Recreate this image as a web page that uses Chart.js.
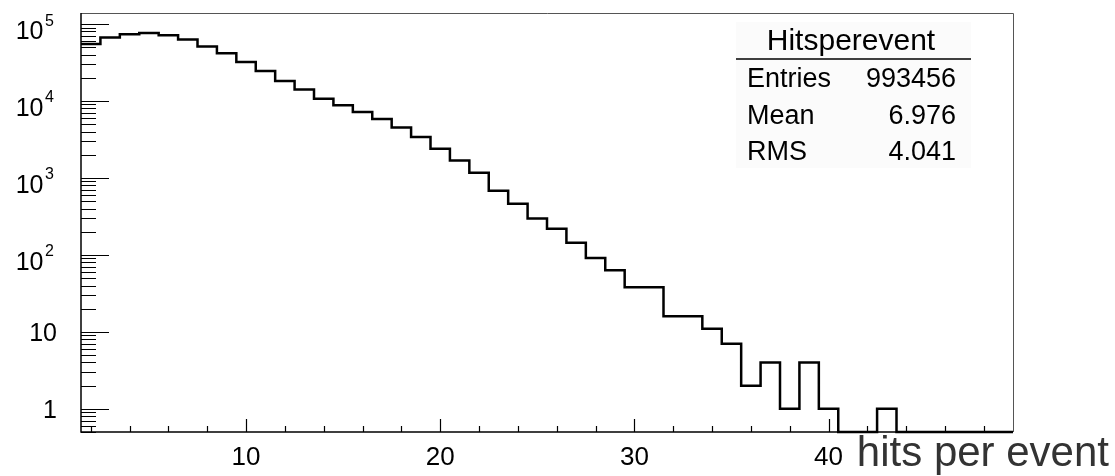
<!DOCTYPE html>
<html>
<head>
<meta charset="utf-8">
<script src="https://cdn.jsdelivr.net/npm/chart.js@4.4.1/dist/chart.umd.min.js"></script>
<style>
  body { margin: 0; background: #fff; }
  #wrap { width: 1115px; height: 476px; position: relative; }
</style>
</head>
<body>
<div id="wrap"><canvas id="hist"></canvas></div>
<script>
// histogram: hits per event, one bin per integer
const binCenters = [2, 3, 4, 5, 6, 7, 8, 9, 10, 11, 12, 13, 14, 15, 16, 17, 18, 19, 20, 21, 22, 23, 24, 25,
    26, 27, 28, 29, 30, 31, 32, 33, 34, 35, 36, 37, 38, 39, 40, 41, 42, 43, 44, 45, 46, 47, 48, 49];
const counts = [55000, 66700, 73700, 76600, 71500, 62800, 50900, 41700, 32100, 24500, 18200, 14100,
    10700, 8790, 7200, 5830, 4510, 3400, 2400, 1680, 1170, 684, 463, 298,
    219, 144, 91, 63, 38, 38, 16, 16, 11, 7, 2, 4, 1, 4, 1, 0, 0, 1,
    0, 0, 0, 0, 0, 0];
const binWidth = 1;

// axis ranges
const xMin = 1.5, xMax = 49.5;
const yMin = 0.5, yMax = 139000;

// axis labels
const xTickValues = [10, 20, 30, 40];
const yTickValues = [1, 10, 100, 1000, 10000, 100000];
const yTickBase = ['1', '10', '10', '10', '10', '10'];
const yTickExp = ['', '', '2', '3', '4', '5'];
const xTitle = 'hits per event';

// stats box
const statsTitle = 'Hitsperevent';
const statNames = ['Entries', 'Mean', 'RMS'];
const statValues = ['993456', '6.976', '4.041'];

const FONT = '"Liberation Sans", Arial, Helvetica, sans-serif';

// left bin edges + closing edge, for a stepped outline
// empty bins sit on the bottom of the log axis (like ROOT does)
const shown = counts.map(c => (c > 0 ? c : yMin));
const points = binCenters.map((c, i) => ({ x: c - binWidth / 2, y: shown[i] }));
points.push({ x: binCenters[binCenters.length - 1] + binWidth / 2, y: shown[shown.length - 1] });

const rootAxes = {
    id: 'rootAxes',
    afterDraw(chart) {
        const ctx = chart.ctx;
        const a = chart.chartArea;
        const x = chart.scales.x;
        const y = chart.scales.y;
        ctx.save();

        // frame top/right
        ctx.strokeStyle = '#555';
        ctx.lineWidth = 1;
        ctx.beginPath();
        ctx.moveTo(a.left, a.top + 0.5);
        ctx.lineTo(a.right + 0.5, a.top + 0.5);
        ctx.lineTo(a.right + 0.5, a.bottom);
        ctx.stroke();

        // axes
        ctx.strokeStyle = '#000';
        ctx.lineWidth = 1.5;
        ctx.beginPath();
        ctx.moveTo(a.left, a.top);
        ctx.lineTo(a.left, a.bottom);
        ctx.lineTo(a.right, a.bottom);
        ctx.stroke();

        // y ticks (inside, on the left)
        ctx.lineWidth = 1.2;
        ctx.beginPath();
        for (let k = -1; k <= 5; k++) {
            for (let m = 1; m <= 9; m++) {
                const v = m * Math.pow(10, k);
                if (v < y.min || v > y.max) continue;
                const py = Math.round(y.getPixelForValue(v)) + 0.5;
                const len = m === 1 ? 28 : 15;
                ctx.moveTo(a.left, py);
                ctx.lineTo(a.left + len, py);
            }
        }
        // x ticks (inside, on the bottom)
        for (let v = 2; v <= 48; v += 2) {
            const px = Math.round(x.getPixelForValue(v)) + 0.5;
            const len = v % 10 === 0 ? 13 : 6;
            ctx.moveTo(px, a.bottom);
            ctx.lineTo(px, a.bottom - len);
        }
        ctx.stroke();

        // x labels
        ctx.fillStyle = '#000';
        ctx.font = '26px ' + FONT;
        ctx.textAlign = 'center';
        ctx.textBaseline = 'alphabetic';
        xTickValues.forEach(v => {
            ctx.fillText(String(v), x.getPixelForValue(v), 465);
        });

        // y labels
        yTickValues.forEach((v, i) => {
            const py = y.getPixelForValue(v);
            if (yTickExp[i] === '') {
                ctx.font = '25px ' + FONT;
                ctx.textAlign = 'right';
                ctx.fillText(yTickBase[i], 57, py + 9);
            } else {
                ctx.font = '16px ' + FONT;
                ctx.textAlign = 'left';
                ctx.fillText(yTickExp[i], 45, py + 1.5);
                ctx.font = '25px ' + FONT;
                ctx.textAlign = 'right';
                ctx.fillText(yTickBase[i], 43.5, py + 15);
            }
        });

        // x axis title
        ctx.fillStyle = '#333';
        ctx.font = '42px ' + FONT;
        ctx.textAlign = 'right';
        ctx.fillText(xTitle, 1109, 466);

        // stats box
        ctx.fillStyle = '#fbfbfb';
        ctx.fillRect(736, 22, 235, 146);
        ctx.fillStyle = '#000';
        ctx.font = '30px ' + FONT;
        ctx.textAlign = 'center';
        ctx.fillText(statsTitle, 851, 50);
        ctx.strokeStyle = '#000';
        ctx.lineWidth = 1.5;
        ctx.beginPath();
        ctx.moveTo(736, 59);
        ctx.lineTo(971, 59);
        ctx.stroke();
        ctx.font = '27px ' + FONT;
        statNames.forEach((name, i) => {
            const base = 87 + i * 36.7;
            ctx.textAlign = 'left';
            ctx.fillText(name, 747, base);
            ctx.textAlign = 'right';
            ctx.fillText(statValues[i], 956, base);
        });

        ctx.restore();
    }
};

new Chart(document.getElementById('hist'), {
    type: 'line',
    data: {
        datasets: [{
            label: statsTitle,
            data: points,
            stepped: 'before',
            borderColor: '#000',
            borderWidth: 2.5,
            pointRadius: 0,
            fill: false,
            tension: 0,
            clip: false
        }]
    },
    options: {
        responsive: true,
        maintainAspectRatio: false,
        animation: false,
        layout: { padding: { left: 81, top: 13, right: 102, bottom: 44 } },
        plugins: {
            legend: { display: false },
            tooltip: { enabled: false }
        },
        scales: {
            x: { type: 'linear', min: xMin, max: xMax, display: false },
            y: { type: 'logarithmic', min: yMin, max: yMax, display: false }
        }
    },
    plugins: [rootAxes]
});
</script>
</body>
</html>
